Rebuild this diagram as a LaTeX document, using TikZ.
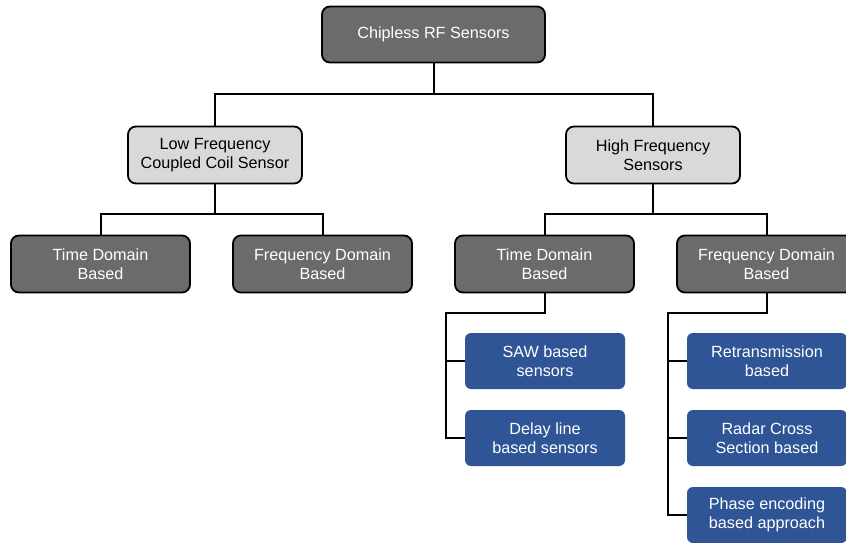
\documentclass[tikz,border=0pt]{standalone}
\usepackage{fontspec}
\setmainfont{Liberation Sans}
\definecolor{darkbox}{HTML}{6B6B6B}
\definecolor{lightbox}{HTML}{D9D9D9}
\definecolor{bluebox}{HTML}{2F5597}
\begin{document}
\begin{tikzpicture}[x=1pt,y=-1pt,
  base/.style={rounded corners=8pt,align=center,inner sep=2pt,
    font=\fontsize{16.2}{19.5}\selectfont},
  darknode/.style={base,draw=black,line width=1.8pt,fill=darkbox,text=white,
    minimum width=179pt,minimum height=57pt},
  lightnode/.style={base,draw=black,line width=1.8pt,fill=lightbox,text=black,
    minimum width=174pt,minimum height=57pt},
  bluenode/.style={base,rounded corners=6pt,fill=bluebox,text=white,
    minimum width=160pt,minimum height=56pt},
  conn/.style={draw=black,line width=2pt}]
\useasboundingbox (0,0) rectangle (846,542);
\clip (0,0) rectangle (846,542);
% nodes
\node[darknode,minimum width=223pt,minimum height=56pt] (root) at (433.5,34.5) {Chipless RF Sensors};
\node[lightnode] (lf) at (215,155) {Low Frequency\\Coupled Coil Sensor};
\node[lightnode] (hf) at (653,155) {High Frequency\\Sensors};
\node[darknode] (tdl) at (100.5,264) {Time Domain\\Based};
\node[darknode] (fdl) at (322.5,264) {Frequency Domain\\Based};
\node[darknode] (tdr) at (544.5,264) {Time Domain\\Based};
\node[darknode] (fdr) at (766.5,264) {Frequency Domain\\Based};
\node[bluenode] (saw) at (545,361) {SAW based\\sensors};
\node[bluenode] (delay) at (545,438) {Delay line\\based sensors};
\node[bluenode] (retr) at (767,361) {Retransmission\\based};
\node[bluenode] (rcs) at (767,438) {Radar Cross\\Section based};
\node[bluenode] (phase) at (767,515) {Phase encoding\\based approach};
% junctions
\coordinate (j0) at (433.5,94);
\coordinate (j1) at (215,214);
\coordinate (j2) at (653,214);
\coordinate (t1) at (446,313);
\coordinate (f1) at (668,313);
% connectors
\draw[conn] (root.south) -- (j0) -| (lf.north);
\draw[conn] (j0) -| (hf.north);
\draw[conn] (lf.south) -- (j1) -| (tdl.north);
\draw[conn] (j1) -| (fdl.north);
\draw[conn] (hf.south) -- (j2) -| (tdr.north);
\draw[conn] (j2) -| (fdr.north);
\draw[conn] (tdr.south) |- (t1) |- (saw.west);
\draw[conn] (t1) |- (delay.west);
\draw[conn] (fdr.south) |- (f1) |- (retr.west);
\draw[conn] (f1) |- (rcs.west);
\draw[conn] (f1) |- (phase.west);
\end{tikzpicture}
\end{document}
